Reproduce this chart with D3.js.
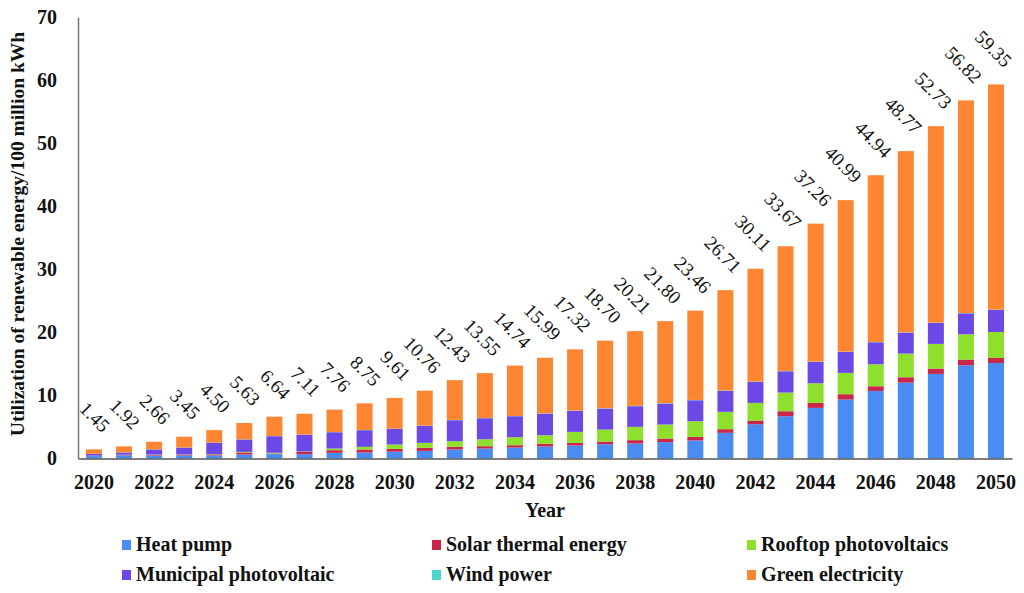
<!DOCTYPE html>
<meta charset="utf-8">
<style>
body { margin: 0; background: #fff; }
svg text { font-family: "Liberation Serif", "DejaVu Serif", serif !important; fill: #111; }
.axis text { font-size: 20px; font-weight: bold; }
.labels { font-size: 19px; }
.legend text { font-size: 20px; font-weight: bold; }
</style>
<svg width="1024" height="593" font-family="Liberation Serif"></svg>
<script src="https://d3js.org/d3.v7.min.js"></script>
<script>
var years = d3.range(2020, 2051);
var seriesNames = ["Heat pump", "Solar thermal energy", "Rooftop photovoltaics", "Municipal photovoltaic", "Wind power", "Green electricity"];
var seriesColors = ["#4a8cf3", "#c8264b", "#8fe02c", "#6c48e6", "#4fd5cf", "#fe8531"];

var heatPump   = [0.38,0.50,0.48,0.48,0.50,0.63,0.69,0.69,0.90,0.95,1.08,1.21,1.43,1.58,1.74,1.90,2.06,2.27,2.38,2.59,2.85,4.07,5.44,6.71,8.03,9.35,10.72,12.04,13.42,14.79,15.16];
var solarTherm = [0.05,0.05,0.10,0.10,0.15,0.32,0.10,0.37,0.42,0.48,0.44,0.48,0.42,0.37,0.37,0.42,0.42,0.42,0.53,0.58,0.58,0.58,0.58,0.79,0.79,0.85,0.74,0.85,0.85,0.90,0.79];
var rooftopPV  = [0.02,0.05,0.05,0.05,0.05,0.10,0.12,0.05,0.26,0.42,0.70,0.79,0.90,1.11,1.27,1.37,1.74,1.90,2.11,2.22,2.48,2.75,2.80,2.96,3.12,3.38,3.49,3.75,3.91,4.01,4.12];
var municipalPV= [0.28,0.35,0.80,1.10,1.80,1.96,2.63,2.64,2.59,2.64,2.48,2.69,3.33,3.33,3.33,3.43,3.33,3.33,3.28,3.33,3.33,3.33,3.33,3.38,3.38,3.33,3.49,3.33,3.33,3.33,3.49];
var windPower  = [0.02,0.02,0.02,0.02,0.02,0.03,0.03,0.03,0.03,0.03,0.03,0.04,0.04,0.04,0.04,0.04,0.05,0.05,0.05,0.05,0.05,0.05,0.05,0.05,0.05,0.05,0.05,0.05,0.05,0.05,0.05];
var greenElec  = [0.70,0.95,1.21,1.70,1.98,2.59,3.07,3.33,3.56,4.23,4.88,5.55,6.31,7.12,7.99,8.83,9.72,10.73,11.86,13.03,14.17,15.93,17.91,19.78,21.89,24.03,26.45,28.75,31.17,33.74,35.74];
var totals     = [1.45,1.92,2.66,3.45,4.50,5.63,6.64,7.11,7.76,8.75,9.61,10.76,12.43,13.55,14.74,15.99,17.32,18.70,20.21,21.80,23.46,26.71,30.11,33.67,37.26,40.99,44.94,48.77,52.73,56.82,59.35];
var yTicks = [0, 10, 20, 30, 40, 50, 60, 70];

var svg = d3.select("svg");

var allSeries = [heatPump, solarTherm, rooftopPV, municipalPV, windPower, greenElec];
var rows = years.map(function(yr, i) {
  var r = { year: yr, total: totals[i] };
  seriesNames.forEach(function(n, k) { r[n] = allSeries[k][i]; });
  return r;
});

var x = d3.scaleBand()
    .domain(years)
    .range([78, 1012])
    .paddingInner(0.468)
    .paddingOuter(0.266);

var y = d3.scaleLinear()
    .domain([0, 70])
    .range([458.5, 17.3]);

var color = d3.scaleOrdinal().domain(seriesNames).range(seriesColors);

var stacked = d3.stack().keys(seriesNames)(rows);

// bars
svg.append("g")
  .selectAll("g")
  .data(stacked)
  .enter().append("g")
    .attr("fill", function(s) { return color(s.key); })
  .selectAll("rect")
  .data(function(s) { return s; })
  .enter().append("rect")
    .attr("x", function(d) { return x(d.data.year); })
    .attr("width", x.bandwidth())
    .attr("y", function(d) { return y(d[1]); })
    .attr("height", function(d) { return y(d[0]) - y(d[1]); });

// y axis
var yAxis = svg.append("g")
    .attr("class", "axis")
    .attr("transform", "translate(78,0)")
    .call(d3.axisLeft(y).tickValues(yTicks).tickSize(0).tickPadding(21).tickSizeOuter(0));
yAxis.attr("font-family", null);
yAxis.select(".domain").attr("stroke", "#777").attr("stroke-width", 1.5);

// x axis
var xAxis = svg.append("g")
    .attr("class", "axis")
    .attr("transform", "translate(0,458.5)")
    .call(d3.axisBottom(x).tickValues(years.filter(function(d) { return d % 2 == 0; })).tickSize(0).tickPadding(16).tickSizeOuter(0));
xAxis.attr("font-family", null);
xAxis.select(".domain").attr("stroke", "#555").attr("stroke-width", 1.5);

// total labels, rotated
svg.append("g")
  .selectAll("text")
  .data(rows)
  .enter().append("text")
    .attr("class", "labels")
    .attr("text-anchor", "end")
    .attr("transform", function(d) {
      return "translate(" + (x(d.year) + x.bandwidth() / 2 + 8) + "," + (y(d.total) - 16) + ") rotate(45)";
    })
    .text(function(d) { return d.total.toFixed(2); });

// axis titles
svg.append("text")
    .attr("transform", "translate(24,234) rotate(-90)")
    .attr("text-anchor", "middle")
    .attr("font-size", 19.5)
    .attr("font-weight", "bold")
    .text("Utilization of renewable energy/100 million kWh");

svg.append("text")
    .attr("x", 545)
    .attr("y", 517)
    .attr("text-anchor", "middle")
    .attr("font-size", 20)
    .attr("font-weight", "bold")
    .text("Year");

// legend
var legendX = [122, 432, 747];
var legendY = [545, 575];
var legend = svg.append("g")
    .attr("class", "legend")
  .selectAll("g")
  .data(seriesNames)
  .enter().append("g")
    .attr("transform", function(n, i) {
      return "translate(" + legendX[i % 3] + "," + legendY[Math.floor(i / 3)] + ")";
    });
legend.append("rect")
    .attr("x", 0)
    .attr("y", -5)
    .attr("width", 9)
    .attr("height", 10)
    .attr("fill", function(n) { return color(n); });
legend.append("text")
    .attr("x", 14)
    .attr("y", 6)
    .text(function(n) { return n; });
</script>
